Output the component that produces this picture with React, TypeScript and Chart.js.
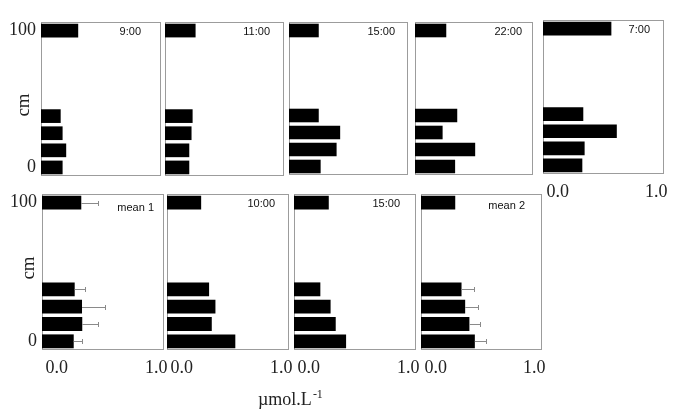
import React, { useEffect, useRef } from 'react';
import { Chart, registerables } from 'chart.js';

Chart.register(...registerables);

// Depth slots, listed top to bottom (only 0 and 100 cm are labelled)
const depthLabels = ['100', '', '', '', '', '', '', '', '0'];
const xTickValues = [0, 1];

// Concentrations (µmol.L-1), same slot order as depthLabels
const h0900 = [0.31, null, null, null, null, 0.164, 0.18, 0.21, 0.18];
const h1100 = [0.257, null, null, null, null, 0.232, 0.223, 0.204, 0.204];
const h1500a = [0.25, null, null, null, null, 0.25, 0.43, 0.4, 0.266];
const h2200 = [0.265, null, null, null, null, 0.358, 0.234, 0.51, 0.34];
const h0700 = [0.565, null, null, null, null, 0.333, 0.61, 0.344, 0.325];
const mean1 = [0.322, null, null, null, null, 0.268, 0.328, 0.33, 0.26];
const mean1Err = [0.137, null, null, null, null, 0.082, 0.186, 0.13, 0.068];
const h1000 = [0.28, null, null, null, null, 0.345, 0.397, 0.367, 0.56];
const h1500b = [0.285, null, null, null, null, 0.216, 0.3, 0.342, 0.427];
const mean2 = [0.283, null, null, null, null, 0.335, 0.365, 0.4, 0.445];
const mean2Err = [null, null, null, null, null, 0.105, 0.107, 0.09, 0.096];

const SERIF = '"Liberation Serif", "Times New Roman", serif';
const SANS = '"Liberation Sans", Arial, sans-serif';

type PanelSpec = {
  title: string;
  values: (number | null)[];
  errors?: (number | null)[];
  x0: number; y0: number; x1: number; y1: number;
  showY: boolean; showX: boolean;
  titleDx: number; titleDy: number;
};

const panels: PanelSpec[] = [
  { title: '9:00', values: h0900, x0: 41, y0: 22, x1: 161, y1: 176, showY: true, showX: false, titleDx: 20, titleDy: 10 },
  { title: '11:00', values: h1100, x0: 165, y0: 22, x1: 284, y1: 176, showY: false, showX: false, titleDx: 14, titleDy: 10 },
  { title: '15:00', values: h1500a, x0: 289, y0: 22, x1: 408, y1: 175, showY: false, showX: false, titleDx: 13, titleDy: 10 },
  { title: '22:00', values: h2200, x0: 415, y0: 22, x1: 533, y1: 175, showY: false, showX: false, titleDx: 11, titleDy: 10 },
  { title: '7:00', values: h0700, x0: 543, y0: 20, x1: 664, y1: 174, showY: false, showX: true, titleDx: 14, titleDy: 10 },
  { title: 'mean 1', values: mean1, errors: mean1Err, x0: 42, y0: 194, x1: 164, y1: 350, showY: true, showX: true, titleDx: 10, titleDy: 14 },
  { title: '10:00', values: h1000, x0: 167, y0: 194, x1: 289, y1: 350, showY: false, showX: true, titleDx: 14, titleDy: 10 },
  { title: '15:00', values: h1500b, x0: 294, y0: 194, x1: 416, y1: 350, showY: false, showX: true, titleDx: 16, titleDy: 10 },
  { title: 'mean 2', values: mean2, errors: mean2Err, x0: 421, y0: 194, x1: 542, y1: 350, showY: false, showX: true, titleDx: 17, titleDy: 12 },
];

function makePlugin(spec: PanelSpec) {
  return {
    id: 'panelFrame',
    beforeDatasetsDraw(chart: any) {
      const { ctx, chartArea: a } = chart;
      ctx.save();
      ctx.strokeStyle = '#9c9c9c';
      ctx.lineWidth = 1;
      ctx.strokeRect(
        Math.round(a.left) + 0.5,
        Math.round(a.top) + 0.5,
        Math.round(a.right - a.left) - 1,
        Math.round(a.bottom - a.top) - 1
      );
      ctx.restore();
    },
    afterDatasetsDraw(chart: any) {
      const { ctx, chartArea: a } = chart;
      const xs = chart.scales.x;
      const ys = chart.scales.y;
      ctx.save();
      if (spec.errors) {
        ctx.strokeStyle = '#8a8a8a';
        ctx.lineWidth = 1;
        spec.errors.forEach((e, i) => {
          const v = spec.values[i];
          if (e == null || v == null) return;
          const xa = xs.getPixelForValue(v);
          const xb = Math.round(xs.getPixelForValue(v + e)) + 0.5;
          const y = Math.round(ys.getPixelForValue(i)) + 0.5;
          ctx.beginPath();
          ctx.moveTo(xa, y);
          ctx.lineTo(xb, y);
          ctx.moveTo(xb, y - 2.5);
          ctx.lineTo(xb, y + 2.5);
          ctx.stroke();
        });
      }
      ctx.fillStyle = '#111';
      ctx.font = `11px ${SANS}`;
      ctx.textAlign = 'right';
      ctx.textBaseline = 'middle';
      ctx.fillText(spec.title, a.right - spec.titleDx, a.top + spec.titleDy);
      ctx.restore();
    },
  };
}

function Panel({ spec }: { spec: PanelSpec }) {
  const ref = useRef<HTMLCanvasElement>(null);
  const padL = spec.showY ? spec.x0 : 8;
  const padT = 22;
  const padR = 12;
  const padB = spec.showX ? 32 : 22;
  const left = spec.x0 - padL;
  const top = spec.y0 - padT;
  const width = spec.x1 - spec.x0 + padL + padR;
  const height = spec.y1 - spec.y0 + padT + padB;

  useEffect(() => {
    if (!ref.current) return;
    const chart = new Chart(ref.current, {
      type: 'bar',
      data: {
        labels: depthLabels,
        datasets: [
          {
            data: spec.values as any,
            backgroundColor: '#000',
            borderWidth: 0,
            barPercentage: 0.8,
            categoryPercentage: 1,
          },
        ],
      },
      options: {
        indexAxis: 'y',
        animation: false,
        responsive: false,
        devicePixelRatio: 1,
        layout: {
          padding: {
            left: spec.showY ? 0 : padL,
            top: padT,
            right: padR,
            bottom: spec.showX ? 0 : padB,
          },
        },
        scales: {
          y: {
            type: 'category',
            display: spec.showY,
            grid: { display: false, drawTicks: false },
            border: { display: false },
            ticks: {
              autoSkip: false,
              padding: 5,
              color: '#222',
              font: { family: SERIF, size: 18 },
            },
            afterFit: spec.showY ? (s: any) => { s.width = padL; } : undefined,
          },
          x: {
            type: 'linear',
            min: 0,
            max: 1,
            display: spec.showX,
            grid: { display: false, drawTicks: false },
            border: { display: false },
            afterBuildTicks: (s: any) => {
              s.ticks = xTickValues.map((v) => ({ value: v }));
            },
            ticks: {
              align: 'inner',
              labelOffset: 3.5,
              maxRotation: 0,
              autoSkip: false,
              padding: 7,
              color: '#222',
              font: { family: SERIF, size: 18 },
              callback: (v: any) => Number(v).toFixed(1),
            },
            afterFit: spec.showX ? (s: any) => { s.height = padB; } : undefined,
          },
        },
        plugins: {
          legend: { display: false },
          tooltip: { enabled: false },
        },
      } as any,
      plugins: [makePlugin(spec)],
    });
    return () => chart.destroy();
  }, []);

  return (
    <canvas
      ref={ref}
      width={width}
      height={height}
      style={{ position: 'absolute', left, top, width, height }}
    />
  );
}

export default function App() {
  const cmStyle = (cx: number, cy: number): React.CSSProperties => ({
    position: 'absolute',
    left: cx,
    top: cy,
    transform: 'translate(-50%, -50%) rotate(-90deg)',
    fontFamily: SERIF,
    fontSize: 19,
    lineHeight: 1,
    color: '#222',
    whiteSpace: 'nowrap',
  });
  return (
    <div style={{ position: 'absolute', left: 0, top: 0, width: 685, height: 416, background: '#fff', overflow: 'hidden' }}>
      {panels.map((p, i) => (
        <Panel key={i} spec={p} />
      ))}
      <div style={cmStyle(22, 105)}>cm</div>
      <div style={cmStyle(26.5, 268)}>cm</div>
      <div
        style={{
          position: 'absolute',
          left: 258,
          top: 390,
          fontFamily: SERIF,
          fontSize: 18,
          lineHeight: 1,
          color: '#222',
          whiteSpace: 'nowrap',
        }}
      >
        µmol.L
        <span style={{ fontSize: 12, position: 'relative', top: -7, marginLeft: 1 }}>-1</span>
      </div>
    </div>
  );
}
